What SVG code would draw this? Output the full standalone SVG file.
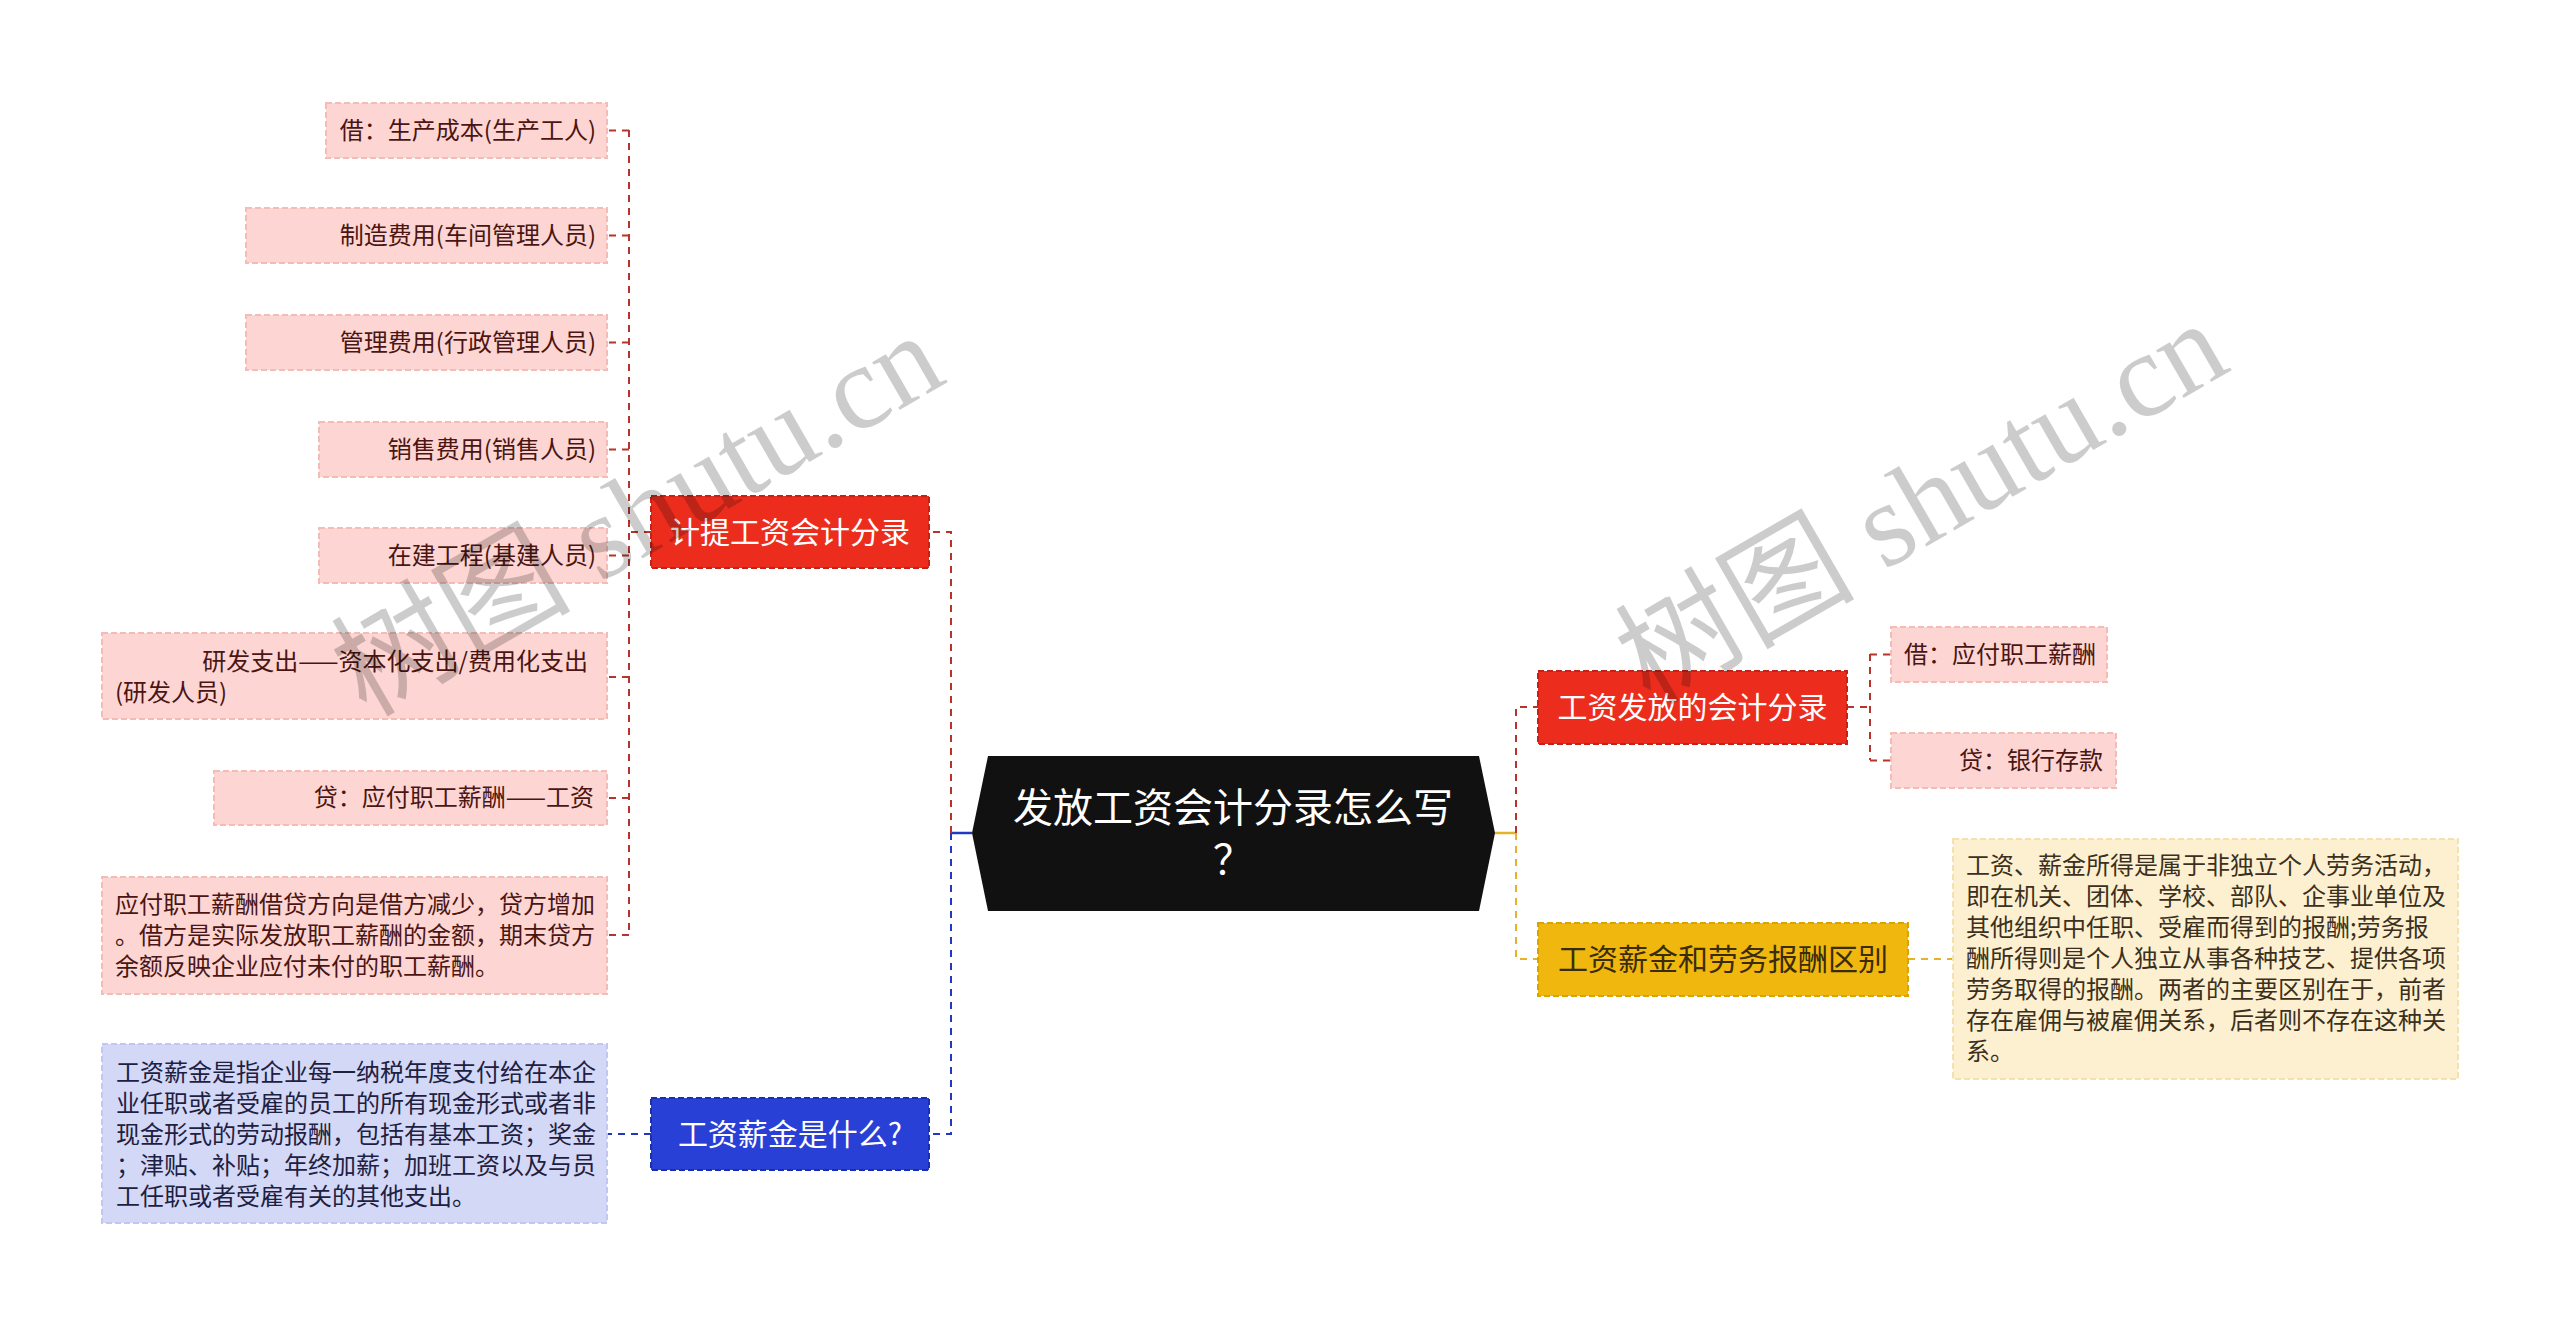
<svg xmlns="http://www.w3.org/2000/svg" width="2560" height="1326" viewBox="0 0 2560 1326">
<style>
text{font-family:"Noto Sans CJK SC","Noto Sans",sans-serif}
.leaf{fill:#fdd6d3;stroke:#f3bcb7;stroke-width:2;stroke-dasharray:6 3}
.lt{font-size:24px;fill:#4a1512}
.red{fill:#ec2d1e;stroke:#c42218;stroke-width:2;stroke-dasharray:6 3}
.blue{fill:#2940d6;stroke:#1a2eb0;stroke-width:2;stroke-dasharray:6 3}
.yel{fill:#f0b70e;stroke:#dba300;stroke-width:2;stroke-dasharray:6 3}
.nt{font-size:30px;fill:#ffffff;text-anchor:middle}
.nty{font-size:30px;fill:#3a2c08;text-anchor:middle}
.bbox{fill:#d4d8f7;stroke:#c2c7ef;stroke-width:2;stroke-dasharray:6 3}
.bt{font-size:24px;fill:#1e2040}
.ybox{fill:#fdf0d0;stroke:#f3e2b0;stroke-width:2;stroke-dasharray:6 3}
.yt{font-size:24px;fill:#3b3020}
.cr{fill:none;stroke:#b8342b;stroke-width:2;stroke-dasharray:7 6}
.cb{fill:none;stroke:#2238c2;stroke-width:2;stroke-dasharray:7 6}
.cy{fill:none;stroke:#e6b22a;stroke-width:2;stroke-dasharray:7 6}
.wm{font-family:"Liberation Serif","Noto Sans CJK SC",serif;font-size:120px;fill:#000;fill-opacity:0.2}
</style>
<rect width="2560" height="1326" fill="#ffffff"/>

<g id="connectors">
  <line x1="972" y1="833" x2="951" y2="833" stroke="#2238c2" stroke-width="2.5"/>
  <line x1="1495" y1="833" x2="1516" y2="833" stroke="#e6b22a" stroke-width="2.5"/>
  <path class="cr" d="M951 833 V532 H929"/>
  <path class="cb" d="M951 833 V1134 H929"/>
  <path class="cr" d="M1516 833 V707 H1538"/>
  <path class="cy" d="M1516 833 V959 H1538"/>
  <path class="cr" d="M651 532 H629"/>
  <path class="cr" d="M629 130 V935"/>
  <path class="cr" d="M629 130.5 H607 M629 235.5 H607 M629 342.5 H607 M629 449.5 H607 M629 555.5 H607 M629 677 H607 M629 798 H607 M629 935 H607"/>
  <path class="cb" d="M651 1134 H607"/>
  <path class="cr" d="M1847 707 H1870 M1870 654 V760 M1870 654.5 H1891 M1870 760.5 H1891"/>
  <path class="cy" d="M1908 959 H1953"/>
</g>

<g id="root">
  <polygon points="988,756 1479,756 1495,833 1479,911 988,911 972,833" fill="#111111"/>
  <text x="1233" y="822" font-size="40" fill="#ffffff" text-anchor="middle">发放工资会计分录怎么写</text>
  <text x="1233" y="874" font-size="40" fill="#ffffff" text-anchor="middle">？</text>
</g>

<g id="n-jiti">
  <rect class="red" x="651" y="496" width="278" height="72"/>
  <text class="nt" x="790" y="542.5">计提工资会计分录</text>
</g>
<g id="n-gzxj">
  <rect class="blue" x="651" y="1098" width="278" height="72"/>
  <text class="nt" x="790" y="1144.5">工资薪金是什么?</text>
</g>
<g id="n-ffkj">
  <rect class="red" x="1538" y="671" width="309" height="73"/>
  <text class="nt" x="1692.5" y="718">工资发放的会计分录</text>
</g>
<g id="n-qb">
  <rect class="yel" x="1538" y="923" width="370" height="73"/>
  <text class="nty" x="1723" y="970">工资薪金和劳务报酬区别</text>
</g>

<g id="l1"><rect class="leaf" x="326" y="103" width="281" height="55"/><text class="lt" x="596" y="139" text-anchor="end">借：生产成本(生产工人)</text></g>
<g id="l2"><rect class="leaf" x="246" y="208" width="361" height="55"/><text class="lt" x="596" y="244" text-anchor="end">制造费用(车间管理人员)</text></g>
<g id="l3"><rect class="leaf" x="246" y="315" width="361" height="55"/><text class="lt" x="596" y="351" text-anchor="end">管理费用(行政管理人员)</text></g>
<g id="l4"><rect class="leaf" x="319" y="422" width="288" height="55"/><text class="lt" x="596" y="458" text-anchor="end">销售费用(销售人员)</text></g>
<g id="l5"><rect class="leaf" x="319" y="528" width="288" height="55"/><text class="lt" x="596" y="564" text-anchor="end">在建工程(基建人员)</text></g>
<g id="l6"><rect class="leaf" x="102" y="633" width="505" height="86"/>
  <text class="lt" x="588" y="670" text-anchor="end">研发支出——资本化支出/费用化支出</text>
  <text class="lt" x="115" y="701">(研发人员)</text></g>
<g id="l7"><rect class="leaf" x="214" y="771" width="393" height="54"/><text class="lt" x="594" y="806" text-anchor="end">贷：应付职工薪酬——工资</text></g>
<g id="l8"><rect class="leaf" x="102" y="877" width="505" height="117"/>
  <text class="lt" x="115" y="913">应付职工薪酬借贷方向是借方减少，贷方增加</text>
  <text class="lt" x="115" y="944">。借方是实际发放职工薪酬的金额，期末贷方</text>
  <text class="lt" x="115" y="975">余额反映企业应付未付的职工薪酬。</text></g>

<g id="b1"><rect class="bbox" x="102" y="1044" width="505" height="179"/>
  <text class="bt" x="116" y="1081">工资薪金是指企业每一纳税年度支付给在本企</text>
  <text class="bt" x="116" y="1112">业任职或者受雇的员工的所有现金形式或者非</text>
  <text class="bt" x="116" y="1143">现金形式的劳动报酬，包括有基本工资；奖金</text>
  <text class="bt" x="116" y="1174">；津贴、补贴；年终加薪；加班工资以及与员</text>
  <text class="bt" x="116" y="1205">工任职或者受雇有关的其他支出。</text></g>

<g id="r1"><rect class="leaf" x="1891" y="627" width="216" height="55"/><text class="lt" x="2096" y="663" text-anchor="end">借：应付职工薪酬</text></g>
<g id="r2"><rect class="leaf" x="1891" y="733" width="225" height="55"/><text class="lt" x="2103" y="769" text-anchor="end">贷：银行存款</text></g>

<g id="y1"><rect class="ybox" x="1953" y="839" width="505" height="240"/>
  <text class="yt" x="1966" y="874">工资、薪金所得是属于非独立个人劳务活动，</text>
  <text class="yt" x="1966" y="905">即在机关、团体、学校、部队、企事业单位及</text>
  <text class="yt" x="1966" y="936">其他组织中任职、受雇而得到的报酬;劳务报</text>
  <text class="yt" x="1966" y="967">酬所得则是个人独立从事各种技艺、提供各项</text>
  <text class="yt" x="1966" y="998">劳务取得的报酬。两者的主要区别在于，前者</text>
  <text class="yt" x="1966" y="1029">存在雇佣与被雇佣关系，后者则不存在这种关</text>
  <text class="yt" x="1966" y="1060">系。</text></g>

<g id="watermarks">
  <text class="wm" transform="translate(366,718) rotate(-30)">树图 shutu.cn</text>
  <text class="wm" transform="translate(1650,706) rotate(-30)">树图 shutu.cn</text>
</g>
</svg>
